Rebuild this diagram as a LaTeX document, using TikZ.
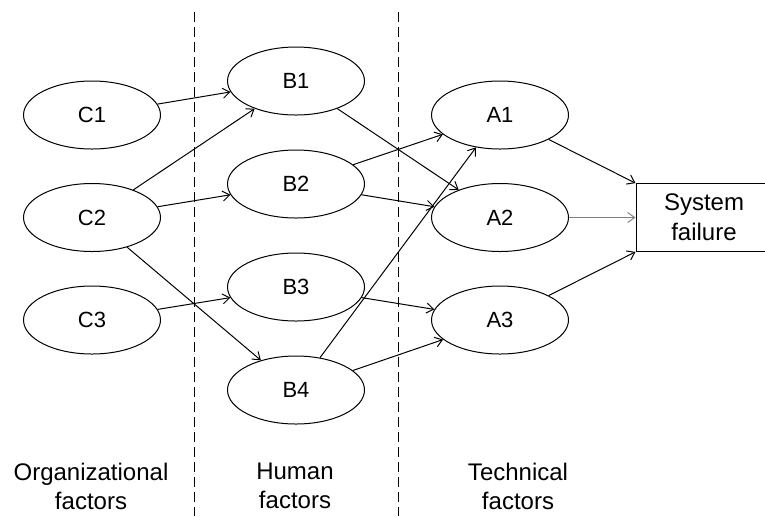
\documentclass[tikz,border=0pt]{standalone}
\usepackage{fontspec}
\setmainfont{Liberation Sans}
\usetikzlibrary{arrows.meta,positioning,shapes.geometric}

\begin{document}
\begin{tikzpicture}[x=0.5pt, y=-0.5pt, line width=0.5pt,
    >={Straight Barb[length=3.5pt,width=5pt]},
    fac/.style={draw, ellipse, minimum width=68.5pt, minimum height=34pt, inner sep=0pt, font=\fontsize{11}{13}\selectfont},
    sysbox/.style={draw, rectangle, minimum width=68pt, minimum height=34pt, inner sep=0pt, align=center, font=\fontsize{12}{15}\selectfont},
    lab/.style={align=center, font=\fontsize{12}{14.5}\selectfont},
    sep/.style={dash pattern=on 5pt off 2.5pt}
  ]
    \useasboundingbox (0,0) rectangle (765,516);
    \draw[sep] (194,12) -- (194,516);
    \draw[sep] (398,12) -- (398,516);

    \node[fac] (c1) at (92,115) {C1};
    \node[fac, below=16.75pt of c1] (c2) {C2};
    \node[fac, below=16.75pt of c2] (c3) {C3};
    \node[fac] (b1) at (296,81) {B1};
    \node[fac, below=17pt of b1] (b2) {B2};
    \node[fac, below=17pt of b2] (b3) {B3};
    \node[fac, below=17pt of b3] (b4) {B4};
    \node[fac] (a1) at (500,115) {A1};
    \node[fac, below=16.75pt of a1] (a2) {A2};
    \node[fac, below=16.75pt of a2] (a3) {A3};
    \node[sysbox, right=33.25pt of a2] (sys) {System\\failure};

    \draw[->] (c1) -- (b1);
    \draw[->] (c2) -- (b1);
    \draw[->] (c2) -- (b2);
    \draw[->] (c2) -- (b4);
    \draw[->] (c3) -- (b3);
    \draw[->] (b1) -- (a2);
    \draw[->] (b2) -- (a1);
    \draw[->] (b2) -- (a2);
    \draw[->] (b3) -- (a3);
    \draw[->] (b4) -- (a1);
    \draw[->] (b4) -- (a3);
    \draw[->] (a1) -- (sys);
    \draw[->, black!50] (a2) -- (sys);
    \draw[->] (a3) -- (sys);

    \node[lab] (org) at (91,486) {Organizational\\factors};
    \node[lab] (hum) at (295,486) {Human\\factors};
    \node[lab] (tec) at (518,486) {Technical\\factors};
  \end{tikzpicture}
\end{document}
